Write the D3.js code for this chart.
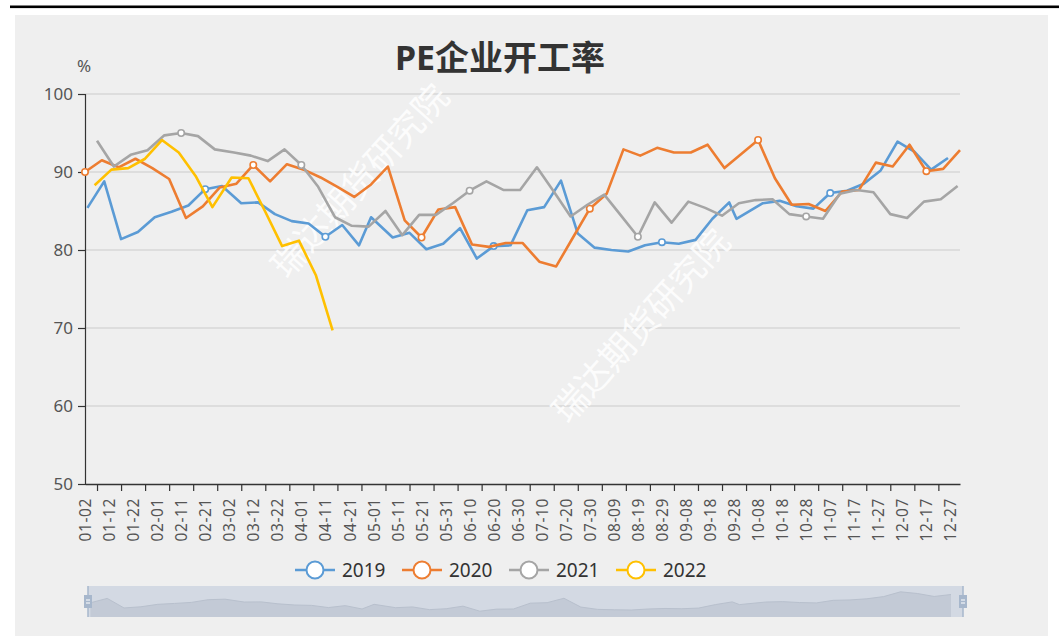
<!DOCTYPE html>
<html><head><meta charset="utf-8">
<script src="https://cdn.jsdelivr.net/npm/d3@7"></script>
<style>body{margin:0;background:#fff}svg{display:block}</style>
</head><body><svg id="c" width="1059" height="636"></svg>
<script>
const chartTitle = "PE企业开工率";
const unitLabel = "%";
const watermark = "瑞达期货研究院";
const yTicks = [50, 60, 70, 80, 90, 100];
const seriesNames = ["2019", "2020", "2021", "2022"];
const seriesColors = ["#5b9bd5", "#ed7d31", "#a5a5a5", "#ffc000"];
// category axis: every month-day of a (leap) calendar year, 01-02 .. 12-31
const categories = d3.timeDay.range(new Date(2020, 0, 2), new Date(2021, 0, 1)).map(d3.timeFormat("%m-%d"));

const dates2019 = ["01-03","01-10","01-17","01-24","01-31","02-07","02-14","02-21","02-28","03-07","03-14","03-21","03-28","04-04","04-11","04-18","04-25","04-30","05-09","05-16","05-23","05-30","06-06","06-13","06-20","06-27","07-04","07-11","07-18","07-25","08-01","08-08","08-15","08-22","08-29","09-05","09-12","09-19","09-26","09-29","10-10","10-17","10-24","10-31","11-07","11-14","11-21","11-28","12-05","12-12","12-19","12-26"];
const values2019 = [85.4,88.8,81.4,82.3,84.2,84.9,85.7,87.8,88.2,86.0,86.1,84.6,83.7,83.4,81.7,83.2,80.6,84.2,81.6,82.2,80.1,80.8,82.8,78.9,80.5,80.6,85.1,85.5,88.9,82.1,80.3,80.0,79.8,80.6,81.0,80.8,81.3,84.0,86.1,84.0,86.0,86.3,85.6,85.3,87.3,87.6,88.5,90.2,93.9,92.6,90.3,91.8];

const dates2020 = ["01-02","01-09","01-16","01-23","01-30","02-06","02-13","02-20","02-27","03-05","03-12","03-19","03-26","04-02","04-09","04-16","04-23","04-30","05-07","05-14","05-21","05-28","06-04","06-11","06-18","06-25","07-02","07-09","07-16","07-23","07-30","08-06","08-13","08-20","08-27","09-03","09-10","09-17","09-24","10-01","10-08","10-15","10-22","10-29","11-05","11-12","11-19","11-26","12-03","12-10","12-17","12-24","12-31"];
const values2020 = [90.0,91.5,90.6,91.7,90.5,89.1,84.1,85.6,88.0,88.5,90.9,88.8,91.0,90.3,89.3,88.1,86.8,88.4,90.7,83.8,81.6,85.2,85.5,80.7,80.4,80.9,80.9,78.5,77.9,81.6,85.3,87.2,92.9,92.1,93.1,92.5,92.5,93.5,90.5,92.3,94.1,89.2,85.8,85.9,85.0,87.5,87.7,91.2,90.7,93.5,90.1,90.4,92.8];

const dates2021 = ["01-07","01-14","01-21","01-28","02-04","02-11","02-18","02-25","03-04","03-11","03-18","03-25","04-01","04-08","04-15","04-22","04-29","05-06","05-13","05-20","05-27","06-03","06-10","06-17","06-24","07-01","07-08","07-15","07-22","07-29","08-05","08-12","08-19","08-26","09-02","09-09","09-16","09-23","09-30","10-07","10-14","10-21","10-28","11-04","11-11","11-18","11-25","12-02","12-09","12-16","12-23","12-30"];
const values2021 = [94.0,90.7,92.2,92.8,94.7,95.0,94.6,92.9,92.5,92.1,91.4,92.9,90.9,88.1,84.2,83.1,83.0,85.0,81.9,84.5,84.5,86.0,87.6,88.8,87.7,87.7,90.6,87.5,84.3,85.8,87.1,84.4,81.7,86.1,83.5,86.2,85.4,84.4,86.0,86.4,86.5,84.6,84.3,84.0,87.2,87.7,87.4,84.6,84.1,86.2,86.5,88.2];

const dates2022 = ["01-06","01-13","01-20","01-27","02-03","02-10","02-17","02-24","03-03","03-10","03-17","03-24","03-31","04-07","04-14"];
const values2022 = [88.3,90.3,90.5,91.7,94.1,92.5,89.5,85.5,89.3,89.2,84.9,80.5,81.2,76.8,69.7];

const seriesDates = [dates2019, dates2020, dates2021, dates2022];
const seriesValues = [values2019, values2020, values2021, values2022];

const svg = d3.select("#c");
const W = 1059, H = 636;
const font = "'Noto Sans','Noto Sans CJK SC',sans-serif";

// page frame
svg.append("rect").attr("width", W).attr("height", H).attr("fill", "#fff");
svg.append("rect").attr("x", 10).attr("y", 5.5).attr("width", W - 10).attr("height", 2.6).attr("fill", "#000");
svg.append("rect").attr("x", 15).attr("y", 15).attr("width", 1033).attr("height", 621).attr("fill", "#efefef");

const x = d3.scalePoint().domain(categories).range([85, 960]);
const y = d3.scaleLinear().domain([50, 100]).range([484, 94]);

// grid
svg.append("g").selectAll("line").data(yTicks.filter(v => v > 50)).join("line")
  .attr("x1", 85).attr("x2", 960).attr("y1", d => y(d)).attr("y2", d => y(d))
  .attr("stroke", "#cccccc").attr("stroke-width", 1.2);

// y axis
const yAxis = svg.append("g").attr("transform", "translate(85,0)")
  .call(d3.axisLeft(y).tickValues(yTicks).tickSize(7).tickPadding(5));
yAxis.select(".domain").attr("stroke", "#333").attr("stroke-width", 1.2);
yAxis.selectAll(".tick line").attr("stroke", "#333").attr("stroke-width", 1.2);
yAxis.selectAll("text").attr("font-family", font).attr("font-size", 17).attr("fill", "#555");

// x axis
const labelCats = categories.filter((c, i) => i % 10 === 0);
const tickCats = categories.filter((c, i) => i % 10 === 5);
const xAxis = svg.append("g").attr("transform", "translate(0,484)")
  .call(d3.axisBottom(x).tickValues(labelCats).tickSize(0).tickPadding(0));
xAxis.select(".domain").attr("stroke", "#333").attr("stroke-width", 1.4);
xAxis.selectAll("text")
  .attr("transform", "rotate(-90)").attr("text-anchor", "end")
  .attr("x", -14).attr("y", 0).attr("dy", "0.36em")
  .attr("font-family", font).attr("font-size", 15.5).attr("letter-spacing", 0.6).attr("fill", "#555");
const xTicks = svg.append("g").attr("transform", "translate(0,484)")
  .call(d3.axisBottom(x).tickValues(tickCats).tickSize(7).tickFormat(""));
xTicks.select(".domain").remove();
xTicks.selectAll(".tick line").attr("stroke", "#333").attr("stroke-width", 1.2);

// watermarks
[[360, 181], [641, 326]].forEach(([cx, cy]) => {
  svg.append("text").attr("transform", `translate(${cx},${cy}) rotate(-48)`)
    .attr("text-anchor", "middle").attr("dy", "0.35em")
    .attr("font-family", "'Noto Sans CJK SC',sans-serif").attr("font-size", 35)
    .attr("fill", "#ffffff").attr("opacity", 0.85).text(watermark);
});

// lines
const line = d3.line().x(d => x(d[0])).y(d => y(d[1]));
seriesNames.forEach((name, s) => {
  const pts = seriesDates[s].map((d, i) => [d, seriesValues[s][i]]);
  svg.append("path").datum(pts).attr("d", line).attr("fill", "none")
    .attr("stroke", seriesColors[s]).attr("stroke-width", 2.6).attr("stroke-linejoin", "round");
  svg.append("g").selectAll("circle")
    .data(pts.filter(p => categories.indexOf(p[0]) % 10 === 0)).join("circle")
    .attr("cx", d => x(d[0])).attr("cy", d => y(d[1])).attr("r", 3.2)
    .attr("fill", "#fff").attr("stroke", seriesColors[s]).attr("stroke-width", 1.6);
});

// title & unit
svg.append("text").attr("x", 500).attr("y", 70).attr("text-anchor", "middle")
  .attr("font-family", font).attr("font-weight", "bold").attr("font-size", 34).attr("fill", "#333").text(chartTitle);
svg.append("text").attr("x", 84).attr("y", 72).attr("text-anchor", "middle")
  .attr("font-family", font).attr("font-size", 17).attr("fill", "#555").text(unitLabel);

// legend
const legend = svg.append("g");
seriesNames.forEach((name, s) => {
  const lx = 295 + s * 107, ly = 570;
  const g = legend.append("g").attr("transform", `translate(${lx},${ly})`);
  g.append("line").attr("x1", 0).attr("x2", 40).attr("stroke", seriesColors[s]).attr("stroke-width", 2.4);
  g.append("circle").attr("cx", 20).attr("r", 8.5).attr("fill", "#fff").attr("stroke", seriesColors[s]).attr("stroke-width", 2);
  g.append("text").attr("x", 47).attr("dy", "0.36em").attr("font-family", font).attr("font-size", 19)
    .attr("fill", "#333").text(name);
});

// data zoom slider
const sx0 = 88, sx1 = 963, sy0 = 586, sy1 = 617;
svg.append("rect").attr("x", sx0).attr("y", sy0).attr("width", sx1 - sx0).attr("height", sy1 - sy0).attr("fill", "#d3d9e3");
const sx = d3.scalePoint().domain(categories).range([sx0, sx1]);
const ext = d3.extent(values2019), span = ext[1] - ext[0];
const sy = d3.scaleLinear().domain([ext[0] - 0.3 * span, ext[1] + 0.3 * span]).range([sy1, sy0]);
const shadowPts = dates2019.map((d, i) => [d, values2019[i]]);
svg.append("path").datum(shadowPts)
  .attr("d", d3.area().x(d => sx(d[0])).y0(sy1).y1(d => sy(d[1])))
  .attr("fill", "#c3cad6");
svg.append("path").datum(shadowPts)
  .attr("d", d3.line().x(d => sx(d[0])).y(d => sy(d[1])))
  .attr("fill", "none").attr("stroke", "#b8c0cd").attr("stroke-width", 1);
[sx0, sx1].forEach(hx => {
  svg.append("line").attr("x1", hx).attr("x2", hx).attr("y1", sy0).attr("y2", sy1).attr("stroke", "#a7b7cc").attr("stroke-width", 1.5);
  svg.append("rect").attr("x", hx - 4).attr("y", 595).attr("width", 8).attr("height", 13).attr("fill", "#a7b7cc");
  svg.append("line").attr("x1", hx - 2).attr("x2", hx + 2).attr("y1", 600).attr("y2", 600).attr("stroke", "#fff");
  svg.append("line").attr("x1", hx - 2).attr("x2", hx + 2).attr("y1", 603).attr("y2", 603).attr("stroke", "#fff");
});
</script></body></html>
